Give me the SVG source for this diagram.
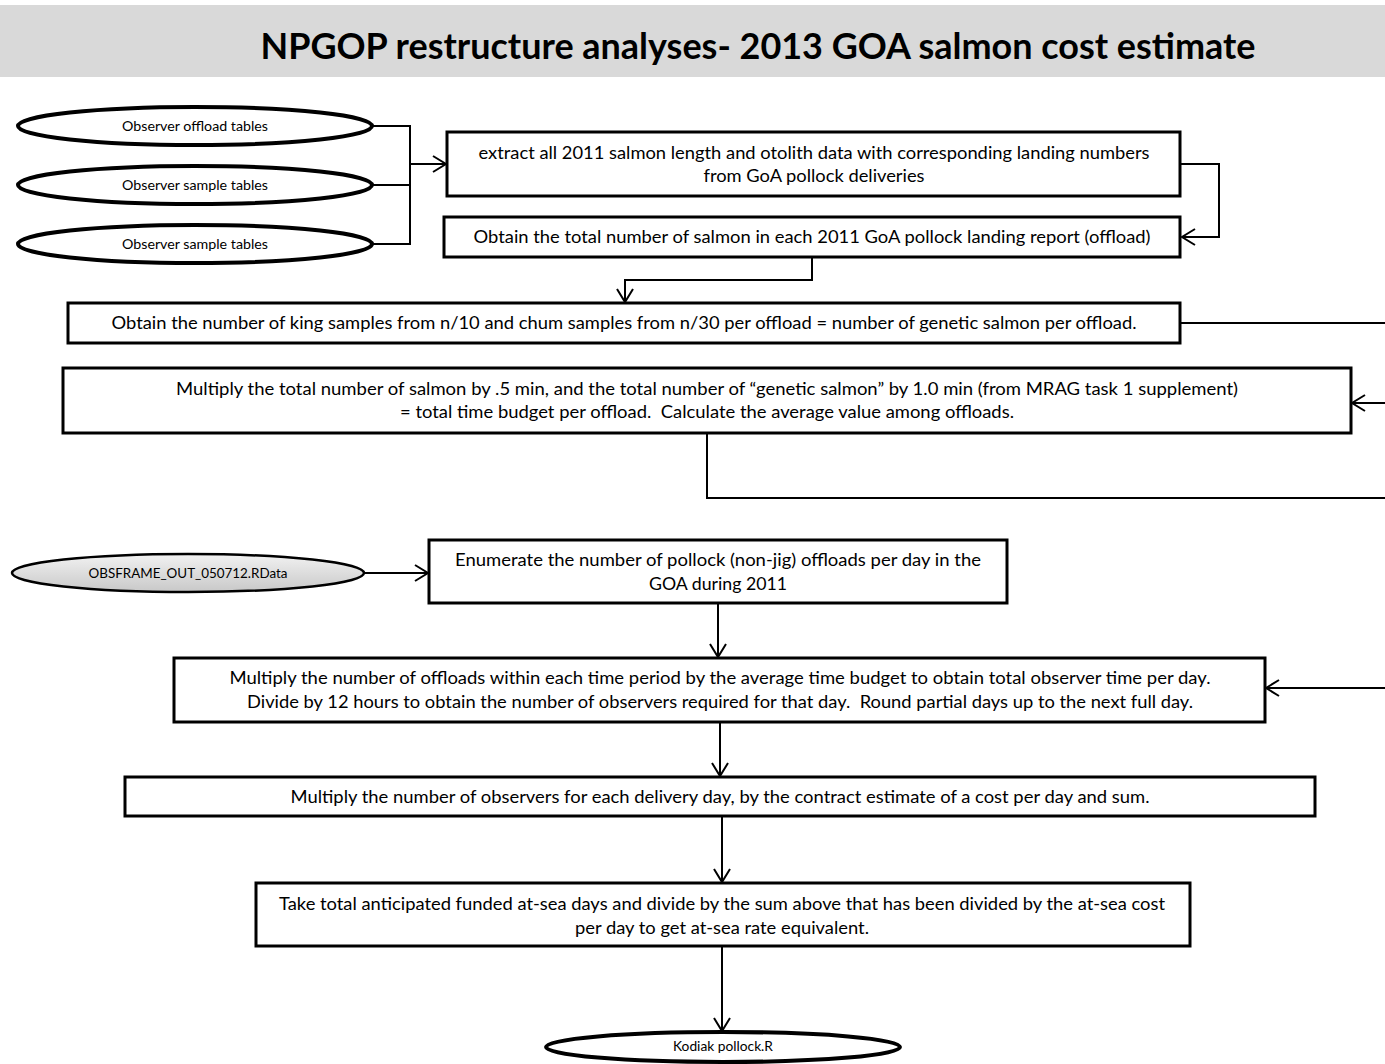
<svg xmlns="http://www.w3.org/2000/svg" width="1385" height="1064" viewBox="0 0 1385 1064">
<style>
.box{fill:#fff;stroke:#000;stroke-width:3}
.ell{fill:#fff;stroke:#000;stroke-width:4}
.t{font-family:Lato,"Liberation Sans",sans-serif;font-size:17px;fill:#000;text-anchor:middle;white-space:pre}
.s{font-family:Lato,"Liberation Sans",sans-serif;font-size:12.5px;fill:#000;text-anchor:middle}
.c{fill:none;stroke:#000;stroke-width:2}
.title{font-family:Lato,"Liberation Sans",sans-serif;font-weight:bold;font-size:36px;fill:#000;text-anchor:middle}
</style>
<defs>
<marker id="arr" markerUnits="userSpaceOnUse" markerWidth="16" markerHeight="20" refX="14" refY="9" orient="auto">
<path d="M1,1 L14,9 L1,17" fill="none" stroke="#000" stroke-width="2"/>
</marker>
<linearGradient id="grey" x1="0" y1="0" x2="0" y2="1">
<stop offset="0" stop-color="#f2f2f2"/>
<stop offset="1" stop-color="#c8c8c8"/>
</linearGradient>
</defs>
<rect width="1385" height="1064" fill="#fff"/>
<g id="title">
<rect x="0" y="5" width="1385" height="72" fill="#d9d9d9"/>
<text class="title" x="758" y="59" textLength="995" lengthAdjust="spacingAndGlyphs">NPGOP restructure analyses- 2013 GOA salmon cost estimate</text>
</g>
<g id="connectors">
<polyline class="c" points="372,126 410,126 410,244 372,244"/>
<line class="c" x1="372" y1="185" x2="410" y2="185"/>
<line class="c" x1="410" y1="164" x2="446" y2="164" marker-end="url(#arr)"/>
<polyline class="c" points="1181,164 1219,164 1219,237 1182,237" marker-end="url(#arr)"/>
<polyline class="c" points="812,258 812,280 625,280 625,302" marker-end="url(#arr)"/>
<line class="c" x1="1181" y1="323" x2="1385" y2="323"/>
<line class="c" x1="1385" y1="403" x2="1352" y2="403" marker-end="url(#arr)"/>
<polyline class="c" points="707,434 707,498 1385,498"/>
<line class="c" x1="364" y1="573" x2="428" y2="573" marker-end="url(#arr)"/>
<line class="c" x1="718" y1="604" x2="718" y2="657" marker-end="url(#arr)"/>
<line class="c" x1="1385" y1="688" x2="1266" y2="688" marker-end="url(#arr)"/>
<line class="c" x1="720" y1="723" x2="720" y2="776" marker-end="url(#arr)"/>
<line class="c" x1="722" y1="817" x2="722" y2="882" marker-end="url(#arr)"/>
<line class="c" x1="722" y1="947" x2="722" y2="1031" marker-end="url(#arr)"/>
</g>
<g id="ell1">
<ellipse class="ell" cx="195" cy="126" rx="177" ry="19"/>
<text class="s" x="195" y="131" textLength="146" lengthAdjust="spacingAndGlyphs">Observer offload tables</text>
</g>
<g id="ell2">
<ellipse class="ell" cx="195" cy="185" rx="177" ry="19"/>
<text class="s" x="195" y="190" textLength="146" lengthAdjust="spacingAndGlyphs">Observer sample tables</text>
</g>
<g id="ell3">
<ellipse class="ell" cx="195" cy="244" rx="177" ry="19"/>
<text class="s" x="195" y="249" textLength="146" lengthAdjust="spacingAndGlyphs">Observer sample tables</text>
</g>
<g id="box1">
<rect class="box" x="447" y="132" width="733" height="64"/>
<text class="t" x="814" y="159" textLength="671" lengthAdjust="spacingAndGlyphs">extract all 2011 salmon length and otolith data with corresponding landing numbers</text>
<text class="t" x="814" y="182" textLength="221" lengthAdjust="spacingAndGlyphs">from GoA pollock deliveries</text>
</g>
<g id="box2">
<rect class="box" x="444" y="217" width="736" height="40"/>
<text class="t" x="812" y="243" textLength="677" lengthAdjust="spacingAndGlyphs">Obtain the total number of salmon in each 2011 GoA pollock landing report (offload)</text>
</g>
<g id="box3">
<rect class="box" x="68" y="303" width="1112" height="40"/>
<text class="t" x="624" y="329" textLength="1025" lengthAdjust="spacingAndGlyphs">Obtain the number of king samples from n/10 and chum samples from n/30 per offload = number of genetic salmon per offload.</text>
</g>
<g id="box4">
<rect class="box" x="63" y="368" width="1288" height="65"/>
<text class="t" x="707" y="395" textLength="1062" lengthAdjust="spacingAndGlyphs">Multiply the total number of salmon by .5 min, and the total number of “genetic salmon” by 1.0 min (from MRAG task 1 supplement)</text>
<text class="t" x="707" y="418" textLength="614" lengthAdjust="spacingAndGlyphs">= total time budget per offload.  Calculate the average value among offloads.</text>
</g>
<g id="obsframe">
<ellipse cx="188" cy="573" rx="176" ry="19" fill="url(#grey)" stroke="#000" stroke-width="2.5"/>
<text class="s" x="188" y="578" textLength="199" lengthAdjust="spacingAndGlyphs">OBSFRAME_OUT_050712.RData</text>
</g>
<g id="box5">
<rect class="box" x="429" y="540" width="578" height="63"/>
<text class="t" x="718" y="566" textLength="526" lengthAdjust="spacingAndGlyphs">Enumerate the number of pollock (non-jig) offloads per day in the</text>
<text class="t" x="718" y="590" textLength="138" lengthAdjust="spacingAndGlyphs">GOA during 2011</text>
</g>
<g id="box6">
<rect class="box" x="174" y="658" width="1091" height="64"/>
<text class="t" x="720" y="684" textLength="981" lengthAdjust="spacingAndGlyphs">Multiply the number of offloads within each time period by the average time budget to obtain total observer time per day.</text>
<text class="t" x="720" y="708" textLength="946" lengthAdjust="spacingAndGlyphs">Divide by 12 hours to obtain the number of observers required for that day.  Round partial days up to the next full day.</text>
</g>
<g id="box7">
<rect class="box" x="125" y="777" width="1190" height="39"/>
<text class="t" x="720" y="803" textLength="859" lengthAdjust="spacingAndGlyphs">Multiply the number of observers for each delivery day, by the contract estimate of a cost per day and sum.</text>
</g>
<g id="box8">
<rect class="box" x="256" y="883" width="934" height="63"/>
<text class="t" x="722" y="910" textLength="886" lengthAdjust="spacingAndGlyphs">Take total anticipated funded at-sea days and divide by the sum above that has been divided by the at-sea cost</text>
<text class="t" x="722" y="934" textLength="294" lengthAdjust="spacingAndGlyphs">per day to get at-sea rate equivalent.</text>
</g>
<g id="kodiak">
<ellipse class="ell" cx="723" cy="1047" rx="177" ry="15"/>
<text class="s" x="723" y="1051" textLength="100" lengthAdjust="spacingAndGlyphs">Kodiak pollock.R</text>
</g>
</svg>
